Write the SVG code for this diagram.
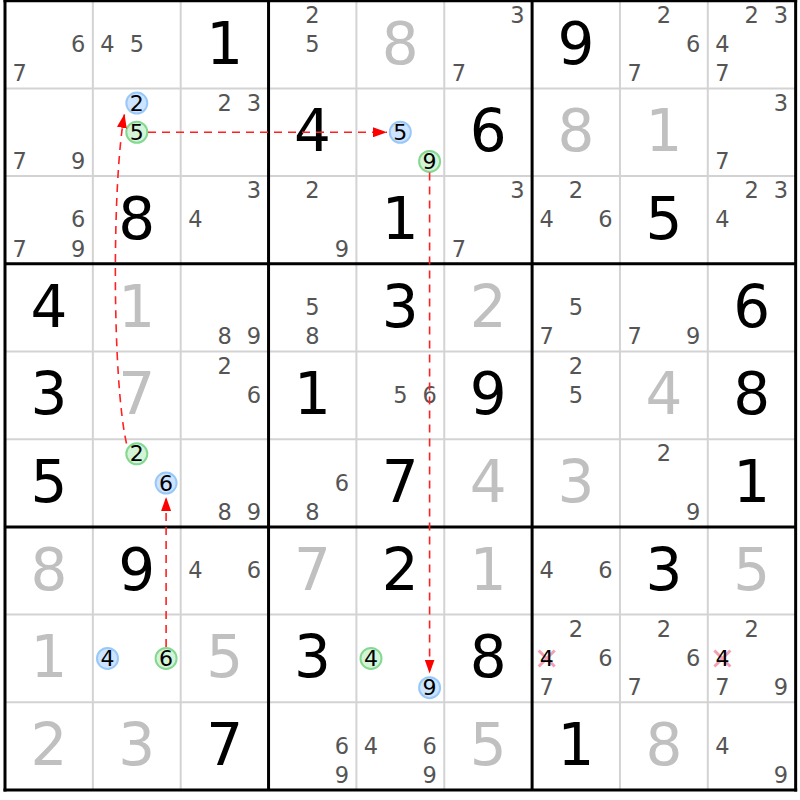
<svg xmlns="http://www.w3.org/2000/svg" width="800" height="800" viewBox="0 0 800 800">
<style>
text{font-family:"DejaVu Sans","Liberation Sans",sans-serif;text-anchor:middle}
.c{font-size:22.5px;fill:#555}
.k{font-size:22px;fill:#000}
.g{font-size:58px;fill:#000}
.s{font-size:58px;fill:#c0c0c0}
.cb{fill:#cce4ff;stroke:#99c8f8;stroke-width:2}
.cg{fill:#d4f4d8;stroke:#84d890;stroke-width:2}
.thin{stroke:#d3d3d3;stroke-width:2}
.thick{stroke:#000;stroke-width:3}
.lnk{fill:none;stroke:#ff2020;stroke-width:1.6;stroke-dasharray:8 6}
.x{stroke:#f4a0b4;stroke-width:3}
</style>
<defs>
<marker id="ah" markerUnits="userSpaceOnUse" markerWidth="14" markerHeight="10" refX="14" refY="5" orient="auto">
<path d="M0,0 L14,5 L0,10 z" fill="#ff0000"/>
</marker>
</defs>
<rect width="800" height="800" fill="#fff"/>
<g id="grid">
<g class="thin">
<line x1="92.85" y1="0.7" x2="92.85" y2="790"/><line x1="180.7" y1="0.7" x2="180.7" y2="790"/>
<line x1="356.4" y1="0.7" x2="356.4" y2="790"/><line x1="444.25" y1="0.7" x2="444.25" y2="790"/>
<line x1="619.95" y1="0.7" x2="619.95" y2="790"/><line x1="707.8" y1="0.7" x2="707.8" y2="790"/>
<line x1="5" y1="88.4" x2="795.65" y2="88.4"/><line x1="5" y1="176.1" x2="795.65" y2="176.1"/>
<line x1="5" y1="351.5" x2="795.65" y2="351.5"/><line x1="5" y1="439.2" x2="795.65" y2="439.2"/>
<line x1="5" y1="614.6" x2="795.65" y2="614.6"/><line x1="5" y1="702.3" x2="795.65" y2="702.3"/>
</g>
<g class="thick">
<line x1="5" y1="-0.8" x2="5" y2="791.5"/><line x1="268.55" y1="0.7" x2="268.55" y2="790"/>
<line x1="532.1" y1="0.7" x2="532.1" y2="790"/><line x1="795.65" y1="-0.8" x2="795.65" y2="791.5"/>
<line x1="3.5" y1="0.7" x2="797.15" y2="0.7"/><line x1="5" y1="263.8" x2="795.65" y2="263.8"/>
<line x1="5" y1="526.9" x2="795.65" y2="526.9"/><line x1="3.5" y1="790" x2="797.15" y2="790"/>
</g>
</g>
<g id="cells">
<g id="r0c0"><text class="c" x="78.2" y="52.05">6</text><text class="c" x="19.6" y="81.25">7</text></g>
<g id="r0c1"><text class="c" x="107.5" y="52.05">4</text><text class="c" x="136.8" y="52.05">5</text></g>
<g id="r0c2"><text class="g" x="224.6" y="63.55">1</text></g>
<g id="r0c3"><text class="c" x="312.5" y="22.85">2</text><text class="c" x="312.5" y="52.05">5</text></g>
<g id="r0c4"><text class="s" x="400.3" y="63.55">8</text></g>
<g id="r0c5"><text class="c" x="517.5" y="22.85">3</text><text class="c" x="458.9" y="81.25">7</text></g>
<g id="r0c6"><text class="g" x="576" y="63.55">9</text></g>
<g id="r0c7"><text class="c" x="663.9" y="22.85">2</text><text class="c" x="693.2" y="52.05">6</text><text class="c" x="634.6" y="81.25">7</text></g>
<g id="r0c8"><text class="c" x="751.7" y="22.85">2</text><text class="c" x="781" y="22.85">3</text><text class="c" x="722.4" y="52.05">4</text><text class="c" x="722.4" y="81.25">7</text></g>

<g id="r1c0"><text class="c" x="19.6" y="168.95">7</text><text class="c" x="78.2" y="168.95">9</text></g>
<g id="r1c1"><circle class="cb" cx="136.8" cy="103.05" r="10.5"/><text class="k" x="136.8" y="110.55">2</text><circle class="cg" cx="136.8" cy="132.25" r="10.5"/><text class="k" x="136.8" y="139.75">5</text></g>
<g id="r1c2"><text class="c" x="224.6" y="110.55">2</text><text class="c" x="253.9" y="110.55">3</text></g>
<g id="r1c3"><text class="g" x="312.5" y="151.25">4</text></g>
<g id="r1c4"><circle class="cb" cx="400.3" cy="132.25" r="10.5"/><text class="k" x="400.3" y="139.75">5</text><circle class="cg" cx="429.6" cy="161.45" r="10.5"/><text class="k" x="429.6" y="168.95">9</text></g>
<g id="r1c5"><text class="g" x="488.2" y="151.25">6</text></g>
<g id="r1c6"><text class="s" x="576" y="151.25">8</text></g>
<g id="r1c7"><text class="s" x="663.9" y="151.25">1</text></g>
<g id="r1c8"><text class="c" x="781" y="110.55">3</text><text class="c" x="722.4" y="168.95">7</text></g>

<g id="r2c0"><text class="c" x="78.2" y="227.45">6</text><text class="c" x="19.6" y="256.65">7</text><text class="c" x="78.2" y="256.65">9</text></g>
<g id="r2c1"><text class="g" x="136.8" y="238.95">8</text></g>
<g id="r2c2"><text class="c" x="253.9" y="198.25">3</text><text class="c" x="195.3" y="227.45">4</text></g>
<g id="r2c3"><text class="c" x="312.5" y="198.25">2</text><text class="c" x="341.8" y="256.65">9</text></g>
<g id="r2c4"><text class="g" x="400.3" y="238.95">1</text></g>
<g id="r2c5"><text class="c" x="517.5" y="198.25">3</text><text class="c" x="458.9" y="256.65">7</text></g>
<g id="r2c6"><text class="c" x="576" y="198.25">2</text><text class="c" x="546.7" y="227.45">4</text><text class="c" x="605.3" y="227.45">6</text></g>
<g id="r2c7"><text class="g" x="663.9" y="238.95">5</text></g>
<g id="r2c8"><text class="c" x="751.7" y="198.25">2</text><text class="c" x="781" y="198.25">3</text><text class="c" x="722.4" y="227.45">4</text></g>

<g id="r3c0"><text class="g" x="48.9" y="326.65">4</text></g>
<g id="r3c1"><text class="s" x="136.8" y="326.65">1</text></g>
<g id="r3c2"><text class="c" x="224.6" y="344.35">8</text><text class="c" x="253.9" y="344.35">9</text></g>
<g id="r3c3"><text class="c" x="312.5" y="315.15">5</text><text class="c" x="312.5" y="344.35">8</text></g>
<g id="r3c4"><text class="g" x="400.3" y="326.65">3</text></g>
<g id="r3c5"><text class="s" x="488.2" y="326.65">2</text></g>
<g id="r3c6"><text class="c" x="576" y="315.15">5</text><text class="c" x="546.7" y="344.35">7</text></g>
<g id="r3c7"><text class="c" x="634.6" y="344.35">7</text><text class="c" x="693.2" y="344.35">9</text></g>
<g id="r3c8"><text class="g" x="751.7" y="326.65">6</text></g>

<g id="r4c0"><text class="g" x="48.9" y="414.35">3</text></g>
<g id="r4c1"><text class="s" x="136.8" y="414.35">7</text></g>
<g id="r4c2"><text class="c" x="224.6" y="373.65">2</text><text class="c" x="253.9" y="402.85">6</text></g>
<g id="r4c3"><text class="g" x="312.5" y="414.35">1</text></g>
<g id="r4c4"><text class="c" x="400.3" y="402.85">5</text><text class="c" x="429.6" y="402.85">6</text></g>
<g id="r4c5"><text class="g" x="488.2" y="414.35">9</text></g>
<g id="r4c6"><text class="c" x="576" y="373.65">2</text><text class="c" x="576" y="402.85">5</text></g>
<g id="r4c7"><text class="s" x="663.9" y="414.35">4</text></g>
<g id="r4c8"><text class="g" x="751.7" y="414.35">8</text></g>

<g id="r5c0"><text class="g" x="48.9" y="502.05">5</text></g>
<g id="r5c1"><circle class="cg" cx="136.8" cy="453.85" r="10.5"/><text class="k" x="136.8" y="461.35">2</text><circle class="cb" cx="166.1" cy="483.05" r="10.5"/><text class="k" x="166.1" y="490.55">6</text></g>
<g id="r5c2"><text class="c" x="224.6" y="519.75">8</text><text class="c" x="253.9" y="519.75">9</text></g>
<g id="r5c3"><text class="c" x="341.8" y="490.55">6</text><text class="c" x="312.5" y="519.75">8</text></g>
<g id="r5c4"><text class="g" x="400.3" y="502.05">7</text></g>
<g id="r5c5"><text class="s" x="488.2" y="502.05">4</text></g>
<g id="r5c6"><text class="s" x="576" y="502.05">3</text></g>
<g id="r5c7"><text class="c" x="663.9" y="461.35">2</text><text class="c" x="693.2" y="519.75">9</text></g>
<g id="r5c8"><text class="g" x="751.7" y="502.05">1</text></g>

<g id="r6c0"><text class="s" x="48.9" y="589.75">8</text></g>
<g id="r6c1"><text class="g" x="136.8" y="589.75">9</text></g>
<g id="r6c2"><text class="c" x="195.3" y="578.25">4</text><text class="c" x="253.9" y="578.25">6</text></g>
<g id="r6c3"><text class="s" x="312.5" y="589.75">7</text></g>
<g id="r6c4"><text class="g" x="400.3" y="589.75">2</text></g>
<g id="r6c5"><text class="s" x="488.2" y="589.75">1</text></g>
<g id="r6c6"><text class="c" x="546.7" y="578.25">4</text><text class="c" x="605.3" y="578.25">6</text></g>
<g id="r6c7"><text class="g" x="663.9" y="589.75">3</text></g>
<g id="r6c8"><text class="s" x="751.7" y="589.75">5</text></g>

<g id="r7c0"><text class="s" x="48.9" y="677.45">1</text></g>
<g id="r7c1"><circle class="cb" cx="107.5" cy="658.45" r="10.5"/><text class="k" x="107.5" y="665.95">4</text><circle class="cg" cx="166.1" cy="658.45" r="10.5"/><text class="k" x="166.1" y="665.95">6</text></g>
<g id="r7c2"><text class="s" x="224.6" y="677.45">5</text></g>
<g id="r7c3"><text class="g" x="312.5" y="677.45">3</text></g>
<g id="r7c4"><circle class="cg" cx="371" cy="658.45" r="10.5"/><text class="k" x="371" y="665.95">4</text><circle class="cb" cx="429.6" cy="687.65" r="10.5"/><text class="k" x="429.6" y="695.15">9</text></g>
<g id="r7c5"><text class="g" x="488.2" y="677.45">8</text></g>
<g id="r7c6"><text class="c" x="576" y="636.75">2</text><line class="x" x1="538.7" y1="650.45" x2="554.7" y2="666.45"/><line class="x" x1="554.7" y1="650.45" x2="538.7" y2="666.45"/><text class="k" x="546.7" y="665.95">4</text><text class="c" x="605.3" y="665.95">6</text><text class="c" x="546.7" y="695.15">7</text></g>
<g id="r7c7"><text class="c" x="663.9" y="636.75">2</text><text class="c" x="693.2" y="665.95">6</text><text class="c" x="634.6" y="695.15">7</text></g>
<g id="r7c8"><text class="c" x="751.7" y="636.75">2</text><line class="x" x1="714.4" y1="650.45" x2="730.4" y2="666.45"/><line class="x" x1="730.4" y1="650.45" x2="714.4" y2="666.45"/><text class="k" x="722.4" y="665.95">4</text><text class="c" x="722.4" y="695.15">7</text><text class="c" x="781" y="695.15">9</text></g>

<g id="r8c0"><text class="s" x="48.9" y="765.15">2</text></g>
<g id="r8c1"><text class="s" x="136.8" y="765.15">3</text></g>
<g id="r8c2"><text class="g" x="224.6" y="765.15">7</text></g>
<g id="r8c3"><text class="c" x="341.8" y="753.65">6</text><text class="c" x="341.8" y="782.85">9</text></g>
<g id="r8c4"><text class="c" x="371" y="753.65">4</text><text class="c" x="429.6" y="753.65">6</text><text class="c" x="429.6" y="782.85">9</text></g>
<g id="r8c5"><text class="s" x="488.2" y="765.15">5</text></g>
<g id="r8c6"><text class="g" x="576" y="765.15">1</text></g>
<g id="r8c7"><text class="s" x="663.9" y="765.15">8</text></g>
<g id="r8c8"><text class="c" x="722.4" y="753.65">4</text><text class="c" x="781" y="782.85">9</text></g>
</g>
<g id="connectors">
<path class="lnk" d="M429.6,172.5 L429.6,673.5" marker-end="url(#ah)"/>
<path class="lnk" d="M148,132.25 L387,132.25" marker-end="url(#ah)"/>
<path class="lnk" d="M126.5,443.5 C112,380 112,180 124.5,114" marker-end="url(#ah)"/>
<path class="lnk" d="M166.1,647 L166.1,497" marker-end="url(#ah)"/>
</g>
</svg>
